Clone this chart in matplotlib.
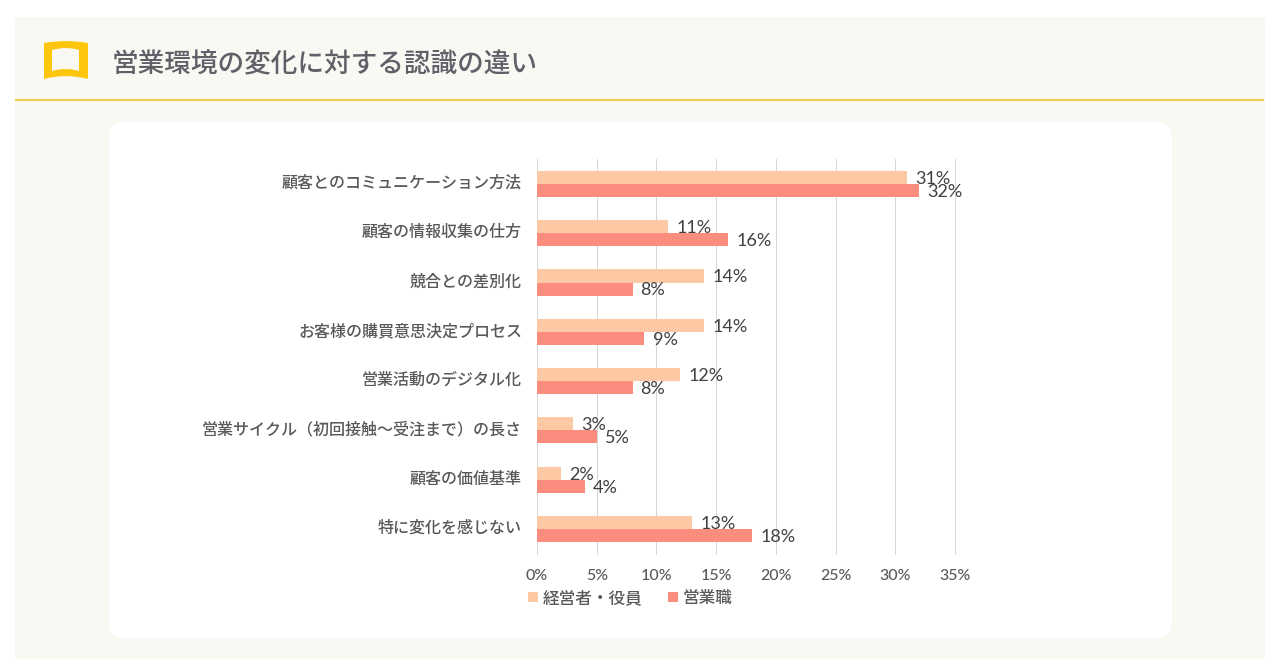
import matplotlib
matplotlib.use('Agg')
import matplotlib.pyplot as plt
from matplotlib.patches import FancyBboxPatch, PathPatch, Rectangle
from matplotlib.path import Path
from matplotlib.transforms import ScaledTranslation

plt.rcParams['font.family'] = ['Noto Sans CJK JP', 'DejaVu Sans']

title = '営業環境の変化に対する認識の違い'
categories = [
    '顧客とのコミュニケーション方法',
    '顧客の情報収集の仕方',
    '競合との差別化',
    'お客様の購買意思決定プロセス',
    '営業活動のデジタル化',
    '営業サイクル（初回接触〜受注まで）の長さ',
    '顧客の価値基準',
    '特に変化を感じない',
]
executives = [31, 11, 14, 14, 12, 3, 2, 13]
sales = [32, 16, 8, 9, 8, 5, 4, 18]
series_names = ['経営者・役員', '営業職']
xticks = [0, 5, 10, 15, 20, 25, 30, 35]

W = 1280
H = 667
fig = plt.figure(figsize=(W / 100, H / 100), dpi=100, facecolor='white')

# background layer in pixel coordinates
bg = fig.add_axes([0, 0, 1, 1])
bg.set_xlim(0, W)
bg.set_ylim(H, 0)
bg.axis('off')
bg.add_patch(Rectangle((15, 17), 1250, 642, color='#f9f8f3', lw=0))
bg.plot([15, 1264], [100, 100], color='#eecf4e', lw=1.5, solid_capstyle='butt')
bg.add_patch(FancyBboxPatch((109, 122), 1063, 516, boxstyle='round,pad=0,rounding_size=16',
                            fc='white', ec='none'))

# book icon
outer = [(44, 43), (66, 39), (88, 43), (88, 79), (66, 73), (44, 79), (44, 43)]
inner = [(52, 71), (66, 67), (79, 71), (79, 50), (66, 46), (52, 50), (52, 71)]
codes = [Path.MOVETO, Path.CURVE3, Path.CURVE3, Path.LINETO, Path.CURVE3, Path.CURVE3, Path.CLOSEPOLY]
icon = Path(outer + inner, codes + codes)
bg.add_patch(PathPatch(icon, fc='#fdc60c', ec='none'))

bg.text(112, 64.5, title, fontsize=19.2, color='#5f6068', va='center', ha='left', fontweight='medium')

# chart
x0, x1 = 537, 955
y0, y1 = 159.3, 553.6
ax = fig.add_axes([x0 / W, 1 - y1 / H, (x1 - x0) / W, (y1 - y0) / H])
ax.patch.set_alpha(0)
ypos = list(range(len(categories)))
bar_h = 0.265
exec_y = [y - bar_h / 2 for y in ypos]
sales_y = [y + bar_h / 2 for y in ypos]
bars1 = ax.barh(exec_y, executives, height=bar_h, color='#fdc9a5', zorder=3, label=series_names[0])
bars2 = ax.barh(sales_y, sales, height=bar_h, color='#fc8d7e', zorder=3, label=series_names[1])

ax.set_xlim(0, 35)
ax.set_ylim(len(categories) - 0.5, -0.5)
ax.set_xticks(xticks)
ax.set_xticklabels([str(x) + '%' for x in xticks], family=['Lato', 'Noto Sans CJK JP'],
                   fontsize=11.5, color='#595959', fontweight='medium')
ax.set_yticks(ypos)
ax.set_yticklabels(categories, fontsize=11.55, color='#595959', fontweight='medium')
ax.tick_params(axis='x', length=0, pad=11)
ax.tick_params(axis='y', length=0, pad=10.8)
# the CJK face sits low when centred, lift the category labels a little
lift = ScaledTranslation(0, 2.5 / 100, fig.dpi_scale_trans)
for lab in ax.get_yticklabels():
    lab.set_transform(lab.get_transform() + lift)
ax.grid(axis='x', color='#d6d6d6', lw=0.72, zorder=0)
ax.grid(axis='y', visible=False)
for line in ax.get_xgridlines():
    line.set_clip_on(False)
for s in ax.spines.values():
    s.set_visible(False)

for vals, ys in [(executives, exec_y), (sales, sales_y)]:
    for v, y in zip(vals, ys):
        ax.annotate(str(v) + '%', (v, y), xytext=(5.8, -1), textcoords='offset points',
                    va='center', ha='left', fontsize=13, color='#404040',
                    family=['Lato', 'Noto Sans CJK JP'], zorder=5)

fig.legend(handles=[bars1, bars2], labels=series_names, loc='upper left',
           bbox_to_anchor=(528 / W, 1 - 589 / H), ncol=2, frameon=False, borderpad=0,
           borderaxespad=0, handlelength=0.6, handleheight=0.6, handletextpad=0.3,
           columnspacing=1.5, labelcolor='#595959',
           prop={'family': 'Noto Sans CJK JP', 'size': 12, 'weight': 'medium'})

fig.savefig('out.png', dpi=100)
plt.close(fig)
